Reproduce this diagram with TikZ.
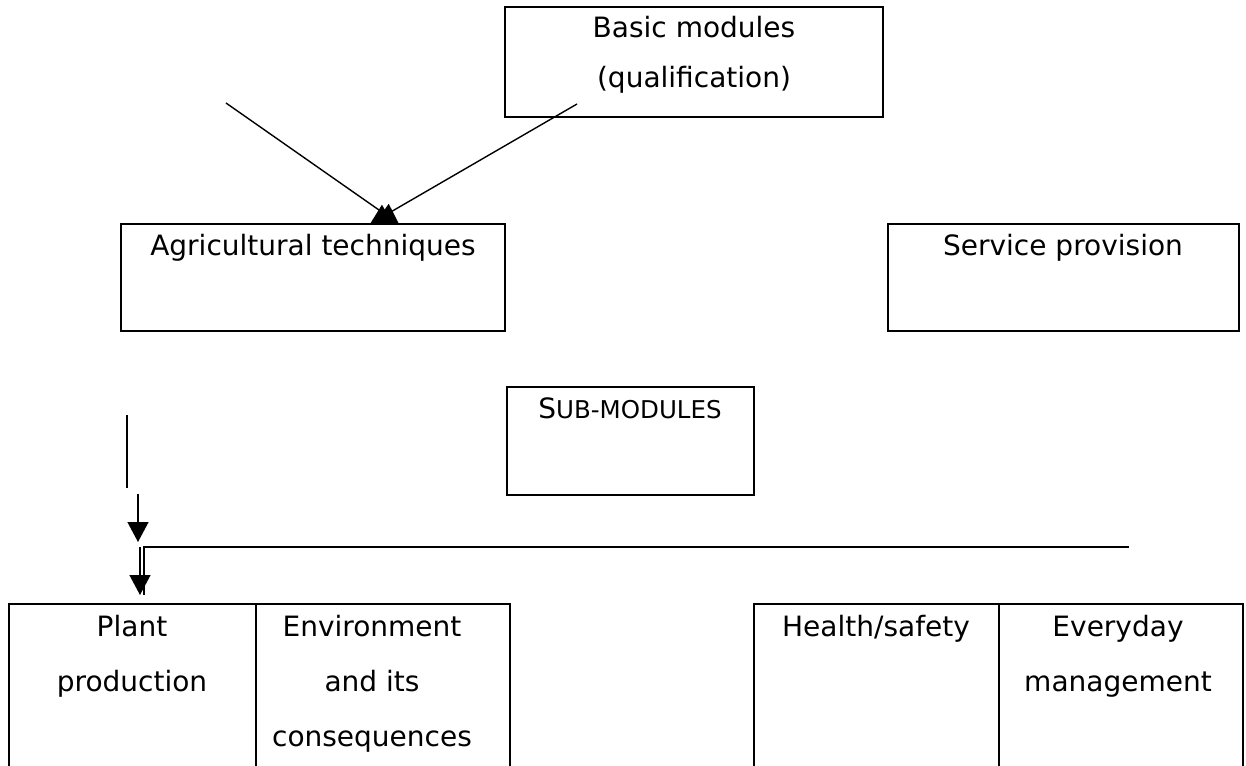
\documentclass[tikz,border=0pt]{standalone}
\usepackage{fontspec}
\setmainfont{DejaVu Sans}
\usetikzlibrary{arrows.meta}

\begin{document}
\begin{tikzpicture}[x=1pt,y=-1pt,
  box/.style={draw, line width=2.4pt, inner sep=0pt, outer sep=0pt, anchor=north west},
  txt/.style={font=\fontsize{28}{34}\selectfont, inner sep=0pt, anchor=base},
  conn/.style={line width=1.4pt},
  tip/.style={-{Triangle[length=20pt,width=21pt]}}]
\useasboundingbox (0,0) rectangle (1246,765);

% modules
\node [box, minimum width=378pt, minimum height=110pt] (basic) at (505,7) {};
\node [txt] (basic-a) at (694,38) {Basic modules};
\node [txt] (basic-b) at (694,88) {(qualification)};
\node [box, minimum width=384pt, minimum height=107pt] (agri) at (121,224) {};
\node [txt] (agri-a) at (313,255) {Agricultural techniques};
\node [box, minimum width=351pt, minimum height=107pt] (service) at (888,224) {};
\node [txt] (service-a) at (1063,255) {Service provision};
\node [box, minimum width=247pt, minimum height=108pt] (sub) at (507,387) {};
\node [txt] (sub-a) at (630,418) {S\fontsize{24.5}{28}\selectfont UB-MODULES};

% sub-modules table
\node [box, minimum width=247pt, minimum height=170pt] (plant) at (9,604) {};
\node [box, minimum width=254pt, minimum height=170pt] (env) at (256,604) {};
\node [box, minimum width=245pt, minimum height=170pt] (health) at (754,604) {};
\node [box, minimum width=244pt, minimum height=170pt] (everyday) at (999,604) {};
\node [txt] (plant-a) at (132,636) {Plant};
\node [txt] (plant-b) at (132,691) {production};
\node [txt] (env-a) at (372,636) {Environment};
\node [txt] (env-b) at (372,691) {and its};
\node [txt] (env-c) at (372,746) {consequences};
\node [txt] (health-a) at (876,636) {Health/safety};
\node [txt] (everyday-a) at (1118,636) {Everyday};
\node [txt] (everyday-b) at (1118,691) {management};

% connectors
\coordinate (a1) at (226,103);
\coordinate (a2) at (577,104);
\draw [conn,tip] (a1) -- ([xshift=278pt]agri.north west);
\draw [conn,tip] (a2) -- ([xshift=249pt]agri.north west);

\coordinate (v1) at (127,415);
\coordinate (v2) at (127,488);
\draw [conn] (v1) -- (v2);
\coordinate (d1) at (138,494);
\coordinate (d2) at (138,542);
\draw [conn,tip] (d1) -- (d2);
\coordinate (h1) at (1129,547);
\coordinate (h2) at (140,547);
\draw [conn] (h1) -| ([shift={(135pt,9pt)}]plant.north west);
\draw [conn,tip] (h2) -- ([shift={(131pt,9pt)}]plant.north west);
\end{tikzpicture}
\end{document}
